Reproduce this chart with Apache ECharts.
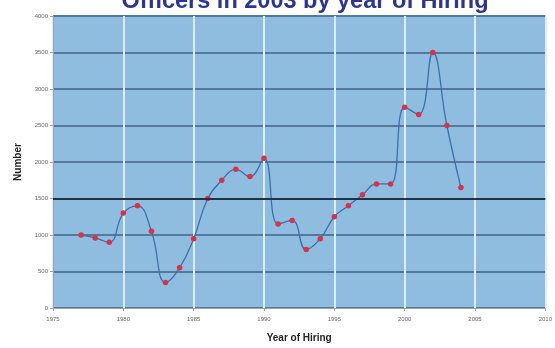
<!DOCTYPE html>
<html>
<head>
<meta charset="utf-8">
<script src="https://cdn.jsdelivr.net/npm/echarts@6/dist/echarts.min.js"></script>
<style>
  html, body { margin: 0; padding: 0; background: #ffffff; }
  #chart { width: 555px; height: 348px; }
</style>
</head>
<body>
<div id="chart"></div>
<script>
// Officers by year of hiring
const years = [1977, 1978, 1979, 1980, 1981, 1982, 1983, 1984, 1985, 1986,
               1987, 1988, 1989, 1990, 1991, 1992, 1993, 1994, 1995, 1996,
               1997, 1998, 1999, 2000, 2001, 2002, 2003, 2004];
const officers = [1000, 960, 900, 1300, 1400, 1050, 350, 550, 950, 1500,
                  1750, 1900, 1800, 2050, 1150, 1200, 800, 950, 1250, 1400,
                  1550, 1700, 1700, 2750, 2650, 3500, 2500, 1650];
const xRange = [1975, 2010];
const yRange = [0, 4000];
const emphasisLevel = 1500;

const chart = echarts.init(document.getElementById('chart'));
chart.setOption({
  animation: false,
  backgroundColor: '#ffffff',
  title: {
    text: 'Officers in 2003 by year of Hiring',
    left: 300,
    textAlign: 'center',
    top: -15,
    textStyle: { fontFamily: 'Liberation Sans', fontSize: 23.5, fontWeight: 'bold', color: '#2c3497' }
  },
  grid: { left: 53, right: 2, top: 16, bottom: 35, show: true, backgroundColor: '#8fbde0', borderWidth: 0 },
  xAxis: {
    type: 'value', min: xRange[0], max: xRange[1], interval: 5,
    name: 'Year of Hiring', nameLocation: 'middle', nameGap: 25,
    nameTextStyle: { fontFamily: 'Liberation Sans', fontSize: 10, fontWeight: 'bold', color: '#222' },
    axisLine: { show: true, lineStyle: { color: '#9aa4b0', width: 1 } },
    axisTick: { show: true, length: 3, lineStyle: { color: '#9aa4b0' } },
    axisLabel: { fontFamily: 'Liberation Sans', fontSize: 6, color: '#666', margin: 8, formatter: v => String(v) },
    splitLine: { show: true, lineStyle: { color: '#dcecf9', width: 2 } }
  },
  yAxis: {
    type: 'value', min: yRange[0], max: yRange[1], interval: 500,
    name: 'Number', nameLocation: 'middle', nameGap: 30, nameRotate: 90,
    nameTextStyle: { fontFamily: 'Liberation Sans', fontSize: 10, fontWeight: 'bold', color: '#222' },
    axisLine: { show: true, lineStyle: { color: '#9aa4b0', width: 1 } },
    axisTick: { show: true, length: 3, lineStyle: { color: '#9aa4b0' } },
    axisLabel: { fontFamily: 'Liberation Sans', fontSize: 6, color: '#666', margin: 5, formatter: v => String(v) },
    splitLine: { show: true, lineStyle: { color: '#54799a', width: 2 } }
  },
  series: [{
    type: 'line',
    data: years.map((y, i) => [y, officers[i]]),
    smooth: 0.45,
    symbol: 'circle',
    symbolSize: 5.5,
    lineStyle: { color: '#3b6eb0', width: 1.3 },
    itemStyle: { color: '#dd2f45' },
    markLine: {
      silent: true, symbol: 'none', label: { show: false },
      lineStyle: { color: '#1f3347', width: 2, type: 'solid' },
      data: [{ yAxis: emphasisLevel }]
    },
    z: 3
  }]
});
</script>
</body>
</html>
